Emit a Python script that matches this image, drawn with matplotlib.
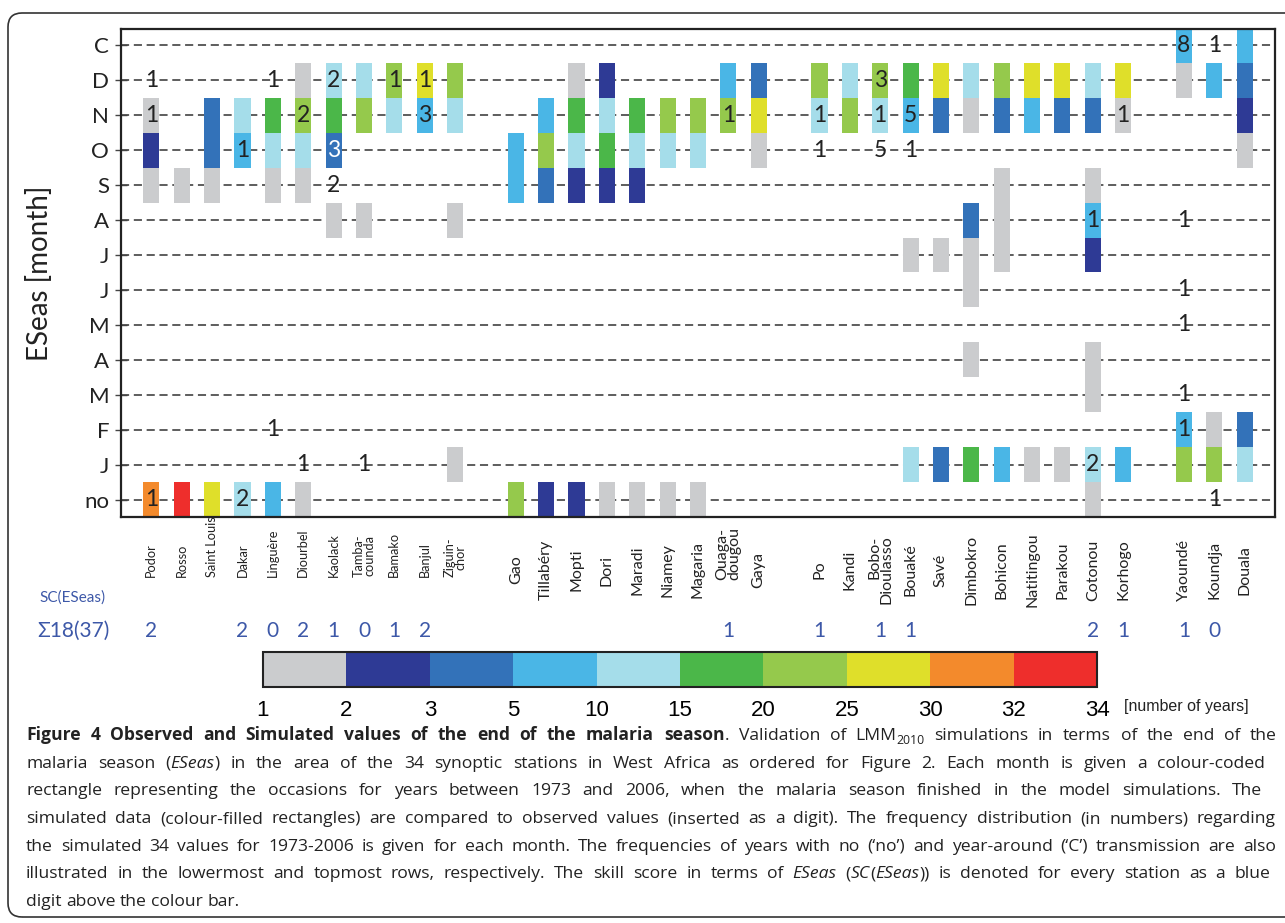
import matplotlib
matplotlib.use("Agg")
import matplotlib.pyplot as plt
import matplotlib.transforms as mtransforms
from matplotlib.colors import ListedColormap, BoundaryNorm
from matplotlib.cm import ScalarMappable
from matplotlib.patches import FancyBboxPatch

W, H = 1285, 923
plt.rcParams['font.family'] = ['Lato', 'DejaVu Sans']

# rows from bottom to top: no season, Jan ... Dec, year-round
months = ["no", "Jan", "Feb", "Mar", "Apr", "May", "Jun", "Jul", "Aug", "Sep", "Oct", "Nov", "Dec", "C"]
month_ticks = ["no", "J", "F", "M", "A", "M", "J", "J", "A", "S", "O", "N", "D", "C"]

# station groups, west to east
west = ["Podor", "Rosso", "Saint Louis", "Dakar", "Linguère", "Diourbel", "Kaolack",
        "Tambacounda", "Bamako", "Banjul", "Ziguinchor"]
sahel = ["Gao", "Tillabéry", "Mopti", "Dori", "Maradi", "Niamey", "Magaria", "Ouagadougou", "Gaya"]
guinea = ["Po", "Kandi", "Bobo-Dioulasso", "Bouaké", "Savé", "Dimbokro", "Bohicon",
          "Natitingou", "Parakou", "Cotonou", "Korhogo"]
central = ["Yaoundé", "Koundja", "Douala"]

wrapped = {"Tambacounda": "Tamba-\ncounda", "Ziguinchor": "Ziguin-\nchor",
           "Ouagadougou": "Ouaga-\ndougou", "Bobo-Dioulasso": "Bobo-\nDioulasso"}

# simulated number of years (1973-2006) per end month
sim_years = {
    "Podor": {"Nov": 1, "Oct": 2, "Sep": 1, "no": 30},
    "Rosso": {"Sep": 1, "no": 33},
    "Saint Louis": {"Nov": 3, "Oct": 4, "Sep": 1, "no": 26},
    "Dakar": {"Nov": 12, "Oct": 8, "no": 14},
    "Linguère": {"Nov": 15, "Oct": 10, "Sep": 1, "no": 8},
    "Diourbel": {"Dec": 1, "Nov": 20, "Oct": 11, "Sep": 1, "no": 1},
    "Kaolack": {"Dec": 12, "Nov": 17, "Oct": 4, "Aug": 1},
    "Tambacounda": {"Dec": 10, "Nov": 23, "Aug": 1},
    "Bamako": {"Dec": 20, "Nov": 14},
    "Banjul": {"Dec": 25, "Nov": 9},
    "Ziguinchor": {"Dec": 20, "Nov": 12, "Aug": 1, "Jan": 1},
    "Gao": {"Oct": 6, "Sep": 7, "no": 21},
    "Tillabéry": {"Nov": 7, "Oct": 21, "Sep": 4, "no": 2},
    "Mopti": {"Dec": 1, "Nov": 17, "Oct": 12, "Sep": 2, "no": 2},
    "Dori": {"Dec": 2, "Nov": 12, "Oct": 17, "Sep": 2, "no": 1},
    "Maradi": {"Nov": 18, "Oct": 13, "Sep": 2, "no": 1},
    "Niamey": {"Nov": 22, "Oct": 11, "no": 1},
    "Magaria": {"Nov": 21, "Oct": 12, "no": 1},
    "Ouagadougou": {"Dec": 9, "Nov": 24},
    "Gaya": {"Dec": 4, "Nov": 29, "Oct": 1},
    "Po": {"Dec": 22, "Nov": 12},
    "Kandi": {"Dec": 12, "Nov": 22},
    "Bobo-Dioulasso": {"Dec": 21, "Nov": 13},
    "Bouaké": {"Dec": 15, "Nov": 7, "Jul": 1, "Jan": 11},
    "Savé": {"Dec": 25, "Nov": 4, "Jul": 1, "Jan": 4},
    "Dimbokro": {"Dec": 11, "Nov": 1, "Aug": 4, "Jul": 1, "Jun": 1, "Apr": 1, "Jan": 15},
    "Bohicon": {"Dec": 20, "Nov": 3, "Sep": 1, "Aug": 1, "Jul": 1, "Jan": 8},
    "Natitingou": {"Dec": 25, "Nov": 8, "Jan": 1},
    "Parakou": {"Dec": 29, "Nov": 4, "Jan": 1},
    "Cotonou": {"Dec": 10, "Nov": 3, "Sep": 1, "Aug": 5, "Jul": 2, "Apr": 1, "Mar": 1, "Jan": 10, "no": 1},
    "Korhogo": {"Dec": 25, "Nov": 1, "Jan": 8},
    "Yaoundé": {"C": 6, "Dec": 1, "Feb": 6, "Jan": 21},
    "Koundja": {"Dec": 9, "Feb": 1, "Jan": 24},
    "Douala": {"C": 6, "Dec": 4, "Nov": 2, "Oct": 1, "Feb": 4, "Jan": 14},
}

# observed number of years per end month
obs_years = {
    "Podor": {"Dec": 1, "Nov": 1, "no": 1},
    "Dakar": {"Oct": 1, "no": 2},
    "Linguère": {"Dec": 1, "Feb": 1},
    "Diourbel": {"Nov": 2, "Jan": 1},
    "Kaolack": {"Dec": 2, "Oct": 3, "Sep": 2},
    "Tambacounda": {"Jan": 1},
    "Bamako": {"Dec": 1},
    "Banjul": {"Dec": 1, "Nov": 3},
    "Ouagadougou": {"Nov": 1},
    "Po": {"Nov": 1, "Oct": 1},
    "Bobo-Dioulasso": {"Dec": 3, "Nov": 1, "Oct": 5},
    "Bouaké": {"Nov": 5, "Oct": 1},
    "Cotonou": {"Aug": 1, "Jan": 2},
    "Korhogo": {"Nov": 1},
    "Yaoundé": {"C": 8, "Aug": 1, "Jun": 1, "May": 1, "Mar": 1, "Feb": 1},
    "Koundja": {"C": 1, "no": 1},
}

# skill score SC(ESeas)
skill = {"Podor": 2, "Dakar": 2, "Linguère": 0, "Diourbel": 2, "Kaolack": 1, "Tambacounda": 0,
         "Bamako": 1, "Banjul": 2, "Ouagadougou": 1, "Po": 1, "Bobo-Dioulasso": 1, "Bouaké": 1,
         "Cotonou": 2, "Korhogo": 1, "Yaoundé": 1, "Koundja": 0}
skill_max = 37

bounds = [1, 2, 3, 5, 10, 15, 20, 25, 30, 32, 34]
class_colors = ["#CBCCCE", "#2E3A95", "#3372B9", "#4AB6E6", "#A5DDEA",
                "#4BB749", "#95C94C", "#DFDF2A", "#F38A2C", "#EE2E2C"]
cmap = ListedColormap(class_colors)
norm = BoundaryNorm(bounds, cmap.N, clip=True)

caption = [
    "*Figure 4 Observed and Simulated values of the end of the malaria season*. Validation of LMM~2010~ simulations in terms of the end of the",
    "malaria season (_ESeas_) in the area of the 34 synoptic stations in West Africa as ordered for Figure 2. Each month is given a colour-coded",
    "rectangle representing the occasions for years between 1973 and 2006, when the malaria season finished in the model simulations. The",
    "simulated data (colour-filled rectangles) are compared to observed values (inserted as a digit). The frequency distribution (in numbers) regarding",
    "the simulated 34 values for 1973-2006 is given for each month. The frequencies of years with no (‘no’) and year-around (‘C’) transmission are also",
    "illustrated in the lowermost and topmost rows, respectively. The skill score in terms of _ESeas_ (_SC_(_ESeas_)) is denoted for every station as a blue",
    "digit above the colour bar.",
]
caption_right = [1277, 1265, 1262, 1276, 1276, 1270, None]

narrow = ["Liberation Sans Narrow", "Liberation Sans"]


def fx(px):
    return px / W


def fy(py):
    return 1 - py / H


fig = plt.figure(figsize=(W / 100, H / 100), dpi=100)
fig.patch.set_facecolor("white")
frame = FancyBboxPatch((0.08, 0.06), 13.2, 9.04, boxstyle="round,pad=0,rounding_size=0.14",
                       transform=fig.dpi_scale_trans, facecolor="none", edgecolor="#333333", lw=1.2)
fig.add_artist(frame)
renderer = fig.canvas.get_renderer()

ax = fig.add_axes([fx(121), fy(517), fx(1275 - 121), (517 - 29) / H])

# x slot for each station, one empty slot between groups
xpos = {}
slot = 0
for group in [west, sahel, guinea, central]:
    for name in group:
        xpos[name] = slot
        slot += 1
    slot += 1
stations = west + sahel + guinea + central

for name in stations:
    for month, n in sim_years[name].items():
        row = months.index(month)
        ax.bar(xpos[name], 1, bottom=row - 0.5, width=0.53, color=cmap(norm(n)), zorder=2)

for name, counts in obs_years.items():
    for month, n in counts.items():
        row = months.index(month)
        cell = sim_years[name].get(month)
        col = "#222222"
        if cell is not None and int(norm(cell)) in (1, 2):
            col = "white"
        ax.text(xpos[name], row, str(n), ha="center", va="center", fontsize=16.5, color=col, zorder=3)

ax.set_xlim(-1, 37)
ax.set_ylim(-0.5, 13.47)
ax.set_xticks([])
ax.set_yticks(range(len(months)))
ax.set_yticklabels(month_ticks, fontsize=16, color="#222222")
ax.tick_params(axis="y", direction="inout", length=9, width=1, color="#444444", pad=4)
ax.yaxis.grid(True, linestyle=(0, (4.5, 2.6)), color="#505050", lw=1.3)
ax.set_axisbelow(True)
for sp in ax.spines.values():
    sp.set_linewidth(1.6)
    sp.set_color("#222222")
ax.set_ylabel("ESeas [month]", fontsize=20, color="#222222")
ax.yaxis.set_label_coords(-0.059, 0.5)

# station names under the axis; the western ones are set a bit smaller
trans = mtransforms.blended_transform_factory(ax.transData, fig.transFigure)
for name in stations:
    label = wrapped.get(name, name)
    if name in west:
        ax.text(xpos[name], fy(577), label, transform=trans, rotation=90, ha="center", va="bottom",
                fontsize=9.2, color="#222222", linespacing=0.85, multialignment="center")
    else:
        y = 554 if name == "Ouagadougou" else 570
        ma = "right" if name == "Bobo-Dioulasso" else "center"
        ax.text(xpos[name], fy(y), label, transform=trans, rotation=90, ha="center", va="center",
                fontsize=11.5, color="#222222", linespacing=0.8, multialignment=ma)

blue = "#3D58A8"
for name, sc in skill.items():
    ax.text(xpos[name], fy(631), str(sc), transform=trans, ha="center", va="center",
            fontsize=15, color=blue)
fig.text(fx(73), fy(598), "SC(ESeas)", ha="center", va="center", fontsize=11, color=blue)
fig.text(fx(73), fy(631), "Σ%d(%d)" % (sum(skill.values()), skill_max), ha="center", va="center",
         fontsize=15, color=blue)

# colour bar
cax = fig.add_axes([fx(263), fy(687), fx(1097 - 263), 35 / H])
cb = fig.colorbar(ScalarMappable(norm=norm, cmap=cmap), cax=cax, orientation="horizontal",
                  ticks=bounds, spacing="uniform")
cb.ax.tick_params(length=0, pad=9)
cb.ax.set_xticklabels([str(b) for b in bounds], fontsize=16, family=narrow)
cb.outline.set_linewidth(1.5)
cb.outline.set_edgecolor("#222222")
fig.text(fx(1124), fy(707), "[number of years]", ha="left", va="center", fontsize=11.5,
         family=narrow, color="#222222")


# caption, laid out word by word so the lines can be justified
def split_words(line):
    words = []
    bold = italic = sub = False
    for raw in line.split(" "):
        pieces = []
        buf = ""
        for ch in raw:
            if ch in "*_~":
                if buf:
                    pieces.append((buf, bold, italic, sub))
                    buf = ""
                if ch == "*":
                    bold = not bold
                elif ch == "_":
                    italic = not italic
                else:
                    sub = not sub
            else:
                buf += ch
        if buf:
            pieces.append((buf, bold, italic, sub))
        words.append(pieces)
    return words


cap_font = ["Open Sans", "DejaVu Sans"]
cap_size = 12.6
space_t = fig.text(0, 0, "a a", fontsize=cap_size, family=cap_font)
nospace_t = fig.text(0, 0, "aa", fontsize=cap_size, family=cap_font)
space_w = space_t.get_window_extent(renderer).width - nospace_t.get_window_extent(renderer).width
space_t.remove()
nospace_t.remove()

x_left = 26
for i, line in enumerate(caption):
    base = 740 + 27.7 * i
    placed = []
    widths = []
    for word in split_words(line):
        items = []
        wsum = 0
        for text, bold, italic, sub in word:
            t = fig.text(0, fy(base + (4 if sub else 0)), text, va="baseline", ha="left",
                         fontsize=cap_size * (0.7 if sub else 1), color="#222222", family=cap_font,
                         fontweight="bold" if bold else "normal",
                         fontstyle="italic" if italic else "normal")
            w = t.get_window_extent(renderer).width
            items.append((t, w))
            wsum += w
        placed.append(items)
        widths.append(wsum)
    if caption_right[i] is None:
        gap = space_w
    else:
        gap = max((caption_right[i] - x_left - sum(widths)) / (len(widths) - 1), space_w * 0.6)
    x = x_left
    for items, wsum in zip(placed, widths):
        px = x
        for t, w in items:
            t.set_x(fx(px))
            px += w
        x += wsum + gap

fig.savefig("out.png", dpi=100, facecolor="white")
